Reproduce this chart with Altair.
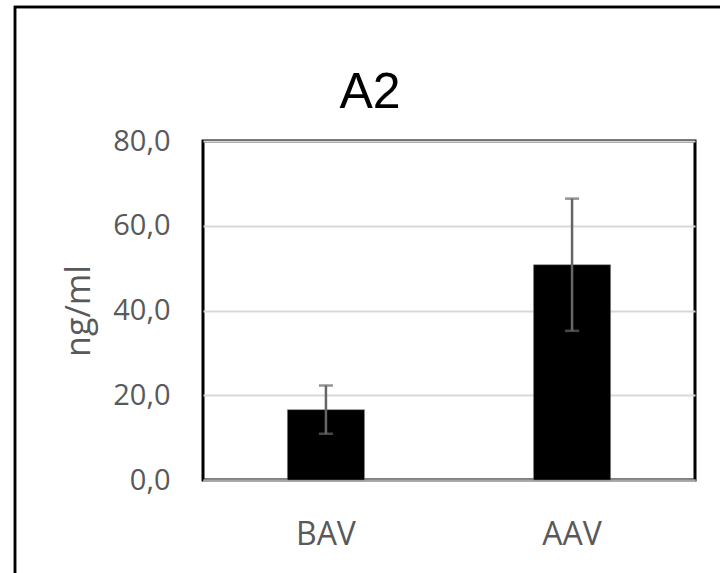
import altair as alt
import pandas as pd

categories = ["BAV", "AAV"]
means = [16.6, 50.8]
errors = [5.7, 15.6]
y_ticks = [0, 20, 40, 60, 80]
title_text = ["A2"]

df = pd.DataFrame({"cat": categories, "mean": means, "err": errors})
df["lo"] = df["mean"] - df["err"]
df["hi"] = df["mean"] + df["err"]
tdf = pd.DataFrame({"t": title_text})

label_color = "#595959"
FONT = "Open Sans"

x_enc = alt.X(
    "cat:N",
    sort=categories,
    scale=alt.Scale(paddingInner=0.687, paddingOuter=0.343),
    axis=alt.Axis(
        title=None, labelAngle=0, labelFontSize=32, labelColor=label_color,
        labelFont=FONT, labelPadding=39, ticks=False, domainColor="#a6a6a6",
        domainWidth=2, grid=False,
    ),
)
y_scale = alt.Scale(domain=[0, 80], nice=False)

bars = alt.Chart(df).mark_bar(color="black", stroke="#7f7f7f", strokeWidth=0.5).encode(
    x=x_enc,
    y=alt.Y(
        "mean:Q",
        scale=y_scale,
        axis=alt.Axis(
            title="ng/ml", titleFontSize=34, titleColor=label_color, titleFont=FONT,
            titleFontWeight="normal", titlePadding=16,
            values=y_ticks, labelFontSize=29, labelColor=label_color, labelFont=FONT,
            labelPadding=33, ticks=False, domain=False,
            labelExpr="replace(format(datum.value, '.1f'), '.', ',')",
            gridColor="#d9d9d9", gridWidth=2,
        ),
    ),
)

rules = alt.Chart(df).mark_rule(color="#666666", strokeWidth=2.5).encode(
    x=alt.X("cat:N", sort=categories),
    y=alt.Y("lo:Q", scale=y_scale),
    y2="hi:Q",
)
caps_hi = alt.Chart(df).mark_tick(color="#666666", thickness=2.5, size=14, orient="horizontal").encode(
    x=alt.X("cat:N", sort=categories),
    y=alt.Y("hi:Q", scale=y_scale),
)
caps_lo = alt.Chart(df).mark_tick(color="#666666", thickness=2.5, size=14, orient="horizontal").encode(
    x=alt.X("cat:N", sort=categories),
    y=alt.Y("lo:Q", scale=y_scale),
)

frame = alt.Chart(df).mark_rect(filled=False, stroke="black", strokeWidth=2.5).encode(
    x=alt.value(-188), x2=alt.value(530), y=alt.value(-134), y2=alt.value(445)
)

title = alt.Chart(tdf).mark_text(
    font="Liberation Sans", fontSize=50, color="black", align="center", baseline="alphabetic"
).encode(text="t:N", x=alt.value(167), y=alt.value(-33))

chart = alt.layer(bars, rules, caps_hi, caps_lo, frame, title).properties(
    width=492,
    height=339,
    padding={"left": 203, "top": 141, "right": 25, "bottom": 93},
    autosize=alt.AutoSizeParams(type="none"),
).configure(
    background="white",
    view=alt.ViewConfig(stroke="black", strokeWidth=3),
)

chart.save("out.html", embed_options={"renderer": "svg", "actions": False})
